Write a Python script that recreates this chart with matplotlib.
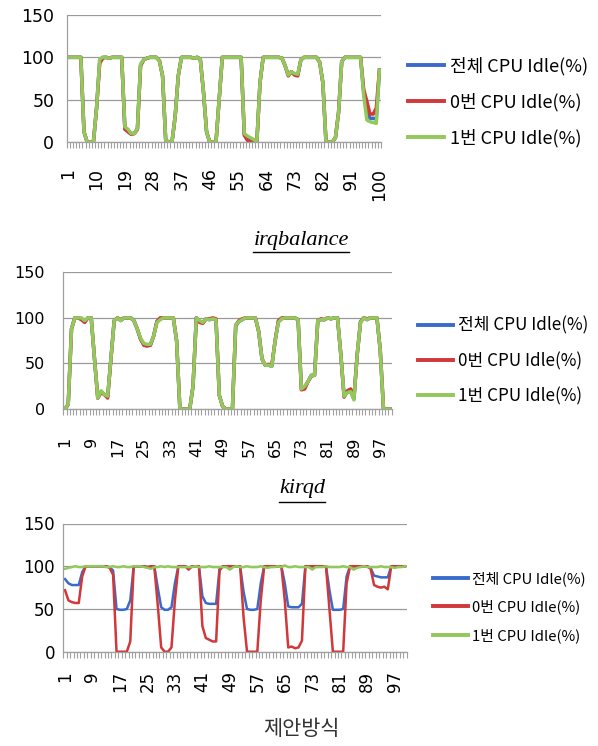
import numpy as np
import matplotlib
matplotlib.use("Agg")
import matplotlib.pyplot as plt
from matplotlib.lines import Line2D
from matplotlib.transforms import ScaledTranslation

plt.rcParams['font.family'] = ['DejaVu Sans', 'Noto Sans CJK KR']

series_labels = ["전체 CPU Idle(%)", "0번 CPU Idle(%)", "1번 CPU Idle(%)"]
titles = ["irqbalance", "kirqd", "제안방식"]

# ---------------- irqbalance ----------------
irq_cpu1 = [100, 100, 100, 100, 100, 12, 0, 0, 0, 40,
            98, 100, 100, 99, 100, 100, 100, 100, 18, 15,
            10, 10, 16, 92, 97, 99, 100, 100, 100, 96,
            78, 2, 0, 0, 30, 78, 100, 100, 100, 100,
            99, 100, 98, 60, 12, 0, 0, 0, 50, 100,
            100, 100, 100, 100, 100, 100, 10, 7, 5, 3,
            0, 70, 100, 100, 100, 100, 100, 100, 99, 90,
            79, 83, 81, 80, 97, 100, 100, 100, 100, 100,
            94, 70, 0, 0, 0, 5, 35, 95, 100, 100,
            100, 100, 100, 100, 55, 26, 24, 23, 22, 85]
irq_cpu0 = [100, 100, 100, 100, 100, 12, 0, 0, 0, 40,
            93, 99, 100, 99, 100, 100, 100, 100, 15, 12,
            9, 10, 15, 90, 97, 99, 100, 100, 100, 96,
            78, 2, 0, 0, 30, 78, 100, 100, 100, 100,
            99, 100, 98, 60, 12, 0, 0, 0, 50, 100,
            100, 100, 100, 100, 100, 100, 8, 2, 0, 0,
            0, 70, 100, 100, 100, 100, 100, 100, 99, 90,
            78, 83, 79, 78, 97, 100, 100, 100, 100, 100,
            94, 70, 0, 0, 0, 5, 35, 95, 100, 100,
            100, 100, 100, 100, 62, 48, 33, 33, 40, 85]
irq_total = [100, 100, 100, 100, 100, 12, 0, 0, 0, 40,
             96, 100, 100, 99, 100, 100, 100, 100, 17, 14,
             10, 10, 16, 91, 97, 99, 100, 100, 100, 96,
             78, 2, 0, 0, 30, 78, 100, 100, 100, 100,
             99, 100, 98, 60, 12, 0, 0, 0, 50, 100,
             100, 100, 100, 100, 100, 100, 9, 5, 3, 2,
             0, 70, 100, 100, 100, 100, 100, 100, 99, 90,
             79, 83, 80, 79, 97, 100, 100, 100, 100, 100,
             94, 70, 0, 0, 0, 5, 35, 95, 100, 100,
             100, 100, 100, 100, 58, 36, 28, 28, 27, 85]

# ---------------- kirqd ----------------
kq_cpu1 = [0, 5, 88, 100, 100, 100, 97, 100, 100, 55,
           12, 20, 16, 14, 55, 97, 100, 97, 100, 100,
           100, 97, 88, 78, 72, 71, 71, 80, 95, 98,
           100, 100, 100, 100, 75, 0, 0, 0, 0, 25,
           100, 97, 95, 99, 98, 99, 98, 15, 3, 0,
           0, 0, 92, 96, 98, 100, 100, 100, 100, 85,
           55, 48, 48, 47, 75, 95, 99, 100, 100, 100,
           100, 98, 22, 25, 30, 37, 37, 97, 98, 98,
           100, 99, 100, 100, 60, 14, 18, 19, 10, 60,
           95, 100, 98, 100, 100, 100, 65, 0, 0, 0]
kq_cpu0 = [0, 5, 88, 100, 100, 98, 95, 100, 100, 55,
           12, 18, 16, 12, 55, 97, 100, 98, 100, 100,
           100, 97, 88, 77, 70, 69, 70, 80, 96, 100,
           100, 100, 100, 100, 75, 0, 0, 0, 0, 25,
           100, 95, 94, 99, 99, 100, 99, 15, 3, 0,
           0, 0, 92, 97, 99, 100, 100, 100, 100, 85,
           55, 48, 49, 48, 75, 97, 100, 100, 100, 100,
           100, 98, 21, 22, 30, 36, 37, 97, 99, 98,
           100, 99, 100, 100, 60, 13, 20, 22, 12, 60,
           96, 100, 99, 100, 100, 100, 65, 0, 0, 0]
kq_total = [0, 5, 88, 100, 100, 99, 96, 100, 100, 55,
            12, 19, 16, 13, 55, 97, 100, 97, 100, 100,
            100, 97, 88, 77, 71, 70, 70, 80, 96, 99,
            100, 100, 100, 100, 75, 0, 0, 0, 0, 25,
            100, 96, 95, 99, 98, 99, 98, 15, 3, 0,
            0, 0, 91, 96, 98, 100, 100, 100, 100, 85,
            55, 48, 48, 47, 75, 96, 99, 100, 100, 100,
            100, 98, 22, 24, 30, 37, 37, 97, 98, 98,
            100, 99, 100, 100, 60, 14, 19, 20, 11, 60,
            95, 100, 98, 100, 100, 100, 65, 0, 0, 0]

# ---------------- proposed ----------------
pr_cpu1 = [97, 98, 99, 100, 99, 99, 100, 100, 100, 100,
           100, 100, 99, 99, 100, 99, 99, 100, 99, 99,
           100, 100, 100, 99, 98, 97, 99, 99, 100, 99,
           100, 99, 99, 99, 99, 99, 99, 99, 100, 99,
           99, 99, 100, 99, 99, 99, 99, 99, 96, 99,
           100, 99, 99, 100, 99, 99, 99, 100, 99, 98,
           99, 99, 100, 99, 101, 99, 99, 100, 99, 99,
           99, 99, 96, 99, 99, 99, 100, 99, 99, 99,
           99, 100, 99, 99, 96, 98, 99, 100, 99, 99,
           99, 99, 100, 99, 99, 99, 98, 99, 99, 100]
pr_cpu0 = [72, 60, 58, 57, 57, 88, 100, 100, 100, 100,
           100, 100, 100, 98, 90, 0, 0, 0, 0, 12,
           100, 100, 100, 100, 99, 100, 100, 55, 5, 0,
           0, 5, 60, 100, 100, 100, 96, 100, 100, 100,
           30, 16, 14, 12, 12, 95, 100, 100, 100, 100,
           100, 100, 40, 0, 0, 0, 0, 60, 100, 100,
           100, 100, 100, 100, 60, 5, 6, 4, 5, 13,
           100, 100, 100, 100, 100, 100, 100, 50, 0, 0,
           0, 0, 80, 100, 100, 100, 100, 100, 100, 97,
           78, 76, 75, 76, 73, 100, 100, 100, 100, 100]
pr_total = [85, 80, 78, 78, 78, 93, 100, 100, 100, 100,
            100, 100, 100, 99, 95, 50, 49, 49, 50, 60,
            100, 100, 100, 100, 99, 99, 100, 75, 52, 49,
            49, 52, 80, 100, 100, 100, 98, 100, 100, 100,
            65, 57, 56, 56, 56, 97, 100, 100, 100, 100,
            100, 100, 70, 50, 49, 49, 50, 80, 100, 100,
            100, 100, 100, 100, 80, 53, 52, 52, 52, 56,
            100, 100, 100, 100, 100, 100, 100, 72, 49, 49,
            49, 50, 88, 100, 100, 100, 100, 100, 100, 98,
            89, 88, 87, 87, 87, 100, 100, 100, 100, 100]

yticks = [0, 50, 100, 150]
xticks_p1 = [1, 10, 19, 28, 37, 46, 55, 64, 73, 82, 91, 100]
xticks_p23 = [1, 9, 17, 25, 33, 41, 49, 57, 65, 73, 81, 89, 97]

colors = ['#3a6bcc', '#d0383a', '#92c95a']
W, H = 598, 746
fig = plt.figure(figsize=(W / 100, H / 100), dpi=100)

def rect(l, r, t, b):
    return [l / W, 1 - b / H, (r - l) / W, (b - t) / H]

panels = [
    dict(rect=rect(66.7, 381, 15, 142), data=(irq_total, irq_cpu0, irq_cpu1),
         xt=xticks_p1, fs=12.5, lw=2.5, pad_y=9, pad_x=18.5,
         leg=(408, 102, 13, 2.0, 0.98)),
    dict(rect=rect(63.3, 391.7, 272.3, 409), data=(kq_total, kq_cpu0, kq_cpu1),
         xt=xticks_p23, fs=11.5, lw=2.5, pad_y=13, pad_x=20,
         leg=(418, 361, 12.3, 2.05, 1.0)),
    dict(rect=rect(63.3, 406.7, 523.5, 651.7), data=(pr_total, pr_cpu0, pr_cpu1),
         xt=xticks_p23, fs=12, lw=1.8, pad_y=6, pad_x=14,
         leg=(433, 607, 10.7, 2.35, 0.92)),
]

shift = ScaledTranslation(6 / 100, 0, fig.dpi_scale_trans)

for p in panels:
    ax = fig.add_axes(p['rect'])
    n = len(p['data'][0])
    x = np.arange(1, n + 1)
    for vals, c in zip(p['data'], colors):
        ax.plot(x, vals, color=c, lw=p['lw'], solid_joinstyle='round')
    ax.set_xlim(0.5, n + 0.5)
    ax.set_ylim(0, 150)
    ax.set_yticks(yticks)
    ax.set_yticklabels([str(v) for v in yticks], fontsize=p['fs'])
    ax.set_xticks(p['xt'])
    ax.set_xticklabels([str(v) for v in p['xt']], rotation=90, fontsize=p['fs'])
    for lab in ax.get_xticklabels():
        lab.set_transform(lab.get_transform() + shift)
    ax.set_xticks(np.arange(0.5, n + 1.5, 1.0), minor=True)
    ax.tick_params(axis='x', which='major', length=0, pad=p['pad_x'])
    ax.tick_params(axis='x', which='minor', length=4, color='#a0a0a0', width=0.8)
    ax.tick_params(axis='y', length=0, pad=p['pad_y'])
    ax.grid(axis='y', color='#9a9a9a', lw=0.9)
    ax.set_axisbelow(True)
    for s in ['top', 'right']:
        ax.spines[s].set_visible(False)
    for s in ['left', 'bottom']:
        ax.spines[s].set_color('#a0a0a0')
        ax.spines[s].set_linewidth(0.9)
    lx, ly, lfs, hl, ls = p['leg']
    handles = [Line2D([], [], color=c, lw=2.8) for c in colors]
    ax.legend(handles, series_labels, loc='center left',
              bbox_to_anchor=(lx / W, 1 - ly / H), bbox_transform=fig.transFigure,
              frameon=False, borderpad=0, borderaxespad=0, handlelength=hl,
              handletextpad=0.3, labelspacing=ls,
              prop=dict(family=['Noto Sans CJK KR', 'DejaVu Sans'], size=lfs))

t1 = fig.text(301 / W, 1 - 240 / H, titles[0], family='Liberation Serif',
              style='italic', fontsize=16, ha='center', va='center')
t2 = fig.text(302 / W, 1 - 489 / H, titles[1], family='Liberation Serif',
              style='italic', fontsize=16, ha='center', va='center')
t3 = fig.text(301 / W, 1 - 729 / H, titles[2], family=['Noto Sans CJK KR'],
              fontsize=15, ha='center', va='center', color='#333333')

fig.canvas.draw()
r = fig.canvas.get_renderer()
for t, yb in [(t1, 252), (t2, 502)]:
    bb = t.get_window_extent(r)
    fig.add_artist(Line2D([bb.x0 / W, bb.x1 / W], [1 - yb / H, 1 - yb / H],
                          transform=fig.transFigure, color='black', lw=1.0))

fig.savefig('out.png', dpi=100)
